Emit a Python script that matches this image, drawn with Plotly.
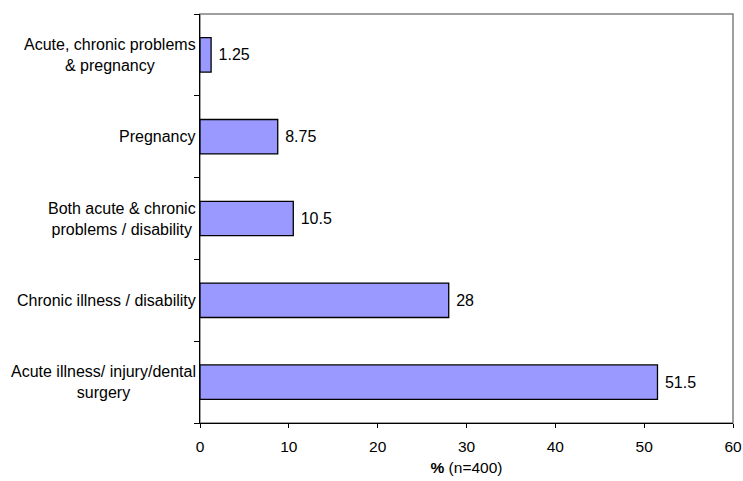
import plotly.graph_objects as go

# Reasons for seeking care, listed bottom to top
categories = [
    "Acute illness/ injury/dental<br>surgery",
    "Chronic illness / disability",
    "Both acute & chronic<br>problems / disability",
    "Pregnancy",
    "Acute, chronic problems<br>& pregnancy",
]
percent = [51.5, 28, 10.5, 8.75, 1.25]
x_ticks = [0, 10, 20, 30, 40, 50, 60]

FONT = "Liberation Sans, Arial, sans-serif"

fig = go.Figure(
    go.Bar(
        y=categories,
        x=percent,
        orientation="h",
        marker=dict(color="#9999FF", line=dict(color="#000000", width=1.3)),
        width=0.42,
        text=[f"\u00a0{v:g}" for v in percent],
        textposition="outside",
        textfont=dict(family=FONT, size=16, color="#000000"),
        cliponaxis=False,
        hoverinfo="skip",
    )
)

# Category labels, centred line-by-line and set against the axis
for cat in categories:
    fig.add_annotation(
        x=0, xref="paper", y=cat, yref="y",
        text=cat, showarrow=False,
        xanchor="right", align="center", xshift=-2,
        font=dict(family=FONT, size=16, color="#000000"),
    )

# Plot-area frame (grey top/right edges)
fig.add_shape(
    type="rect", xref="paper", yref="paper", x0=0, y0=0, x1=1, y1=1,
    line=dict(color="#808080", width=1.5), layer="below",
)

fig.update_layout(
    width=743, height=481,
    margin=dict(l=200, r=10, t=14, b=58),
    paper_bgcolor="white", plot_bgcolor="white",
    showlegend=False,
    font=dict(family=FONT, size=15, color="#000000"),
    xaxis=dict(
        range=[0, 60], tickvals=x_ticks,
        automargin=False,
        showgrid=False, zeroline=False,
        showline=True, linecolor="#000000", linewidth=1,
        ticks="outside", ticklen=4, tickcolor="#000000",
        ticklabelstandoff=5,
        tickfont=dict(family=FONT, size=15.5),
        title=dict(text="<b>%</b> (n=400)", standoff=8,
                   font=dict(family=FONT, size=15.5)),
    ),
    yaxis=dict(
        type="category", categoryorder="array", categoryarray=categories,
        range=[-0.5, 4.5],
        automargin=False,
        showgrid=False, zeroline=False,
        showline=True, linecolor="#000000", linewidth=1,
        ticks="outside", ticklen=5, tickcolor="#000000",
        tickson="boundaries", showticklabels=False,
    ),
)

fig.write_html("out.html")
